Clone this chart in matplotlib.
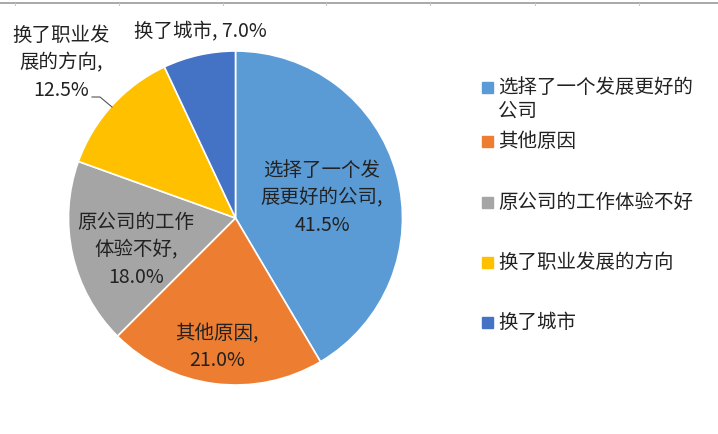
import matplotlib.pyplot as plt
from matplotlib.patches import Rectangle

plt.rcParams['font.family'] = ['Noto Sans CJK SC', 'DejaVu Sans']

# 数据
categories = ['选择了一个发展更好的公司', '其他原因', '原公司的工作体验不好', '换了职业发展的方向', '换了城市']
values = [41.5, 21.0, 18.0, 12.5, 7.0]
colors = ['#5B9BD5', '#ED7D31', '#A5A5A5', '#FFC000', '#4472C4']
label_names = ['选择了一个发\n展更好的公司,', '其他原因,', '原公司的工作\n体验不好,', '换了职业发\n展的方向,', '换了城市,']
legend_names = ['选择了一个发展更好的\n公司', '其他原因', '原公司的工作体验不好', '换了职业发展的方向', '换了城市']

W, H = 718, 434
fig = plt.figure(figsize=(W / 100, H / 100), dpi=100)

# 顶部的表格线
fig.add_artist(plt.Line2D([0, 1], [1 - 2.5 / H, 1 - 2.5 / H], color='#9a9a9a', lw=1.2))
for x in [15, 119, 223, 326, 430, 535, 639]:
    fig.add_artist(plt.Line2D([x / W, x / W], [1 - 2.5 / H, 1 - 5 / H], color='#c8c8c8', lw=0.8))

# 饼图
cx, cy, r = 235.5, H - 218, 167
ax = fig.add_axes([(cx - r) / W, (cy - r) / H, 2 * r / W, 2 * r / H])
ax.pie(values, colors=colors, startangle=90, counterclock=False,
       wedgeprops=dict(edgecolor='white', linewidth=1.2))
ax.set_xlim(-1, 1)
ax.set_ylim(-1, 1)
ax.set_aspect('equal')
ax.axis('off')

# 数据标签 (像素位置)
label_pos = [(322, 198), (217, 347), (136, 250), (61, 63), (200, 32)]
for name, v, (px, py) in zip(label_names, values, label_pos):
    if '\n' not in name and v < 10:
        txt = f'{name} {v:.1f}%'
    else:
        txt = f'{name}\n{v:.1f}%'
    fig.text(px / W, 1 - py / H, txt, ha='center', va='center',
             fontsize=14, color='#222222', linespacing=1.4)

# 引导线
fig.add_artist(plt.Line2D([92 / W, 100 / W, 112 / W],
                          [1 - 97 / H, 1 - 97 / H, 1 - 107 / H],
                          color='#555555', lw=0.8))

# 图例
legend_y = [88, 142, 203, 263, 323]
for name, c, ly in zip(legend_names, colors, legend_y):
    fig.add_artist(Rectangle((482 / W, 1 - (ly + 5) / H), 11 / W, 11 / H,
                             transform=fig.transFigure, color=c))
    fig.text(498 / W, 1 - (ly - 11) / H, name, ha='left', va='top',
             fontsize=14, color='#222222', linespacing=1.15)

fig.savefig('out.png', dpi=100)
